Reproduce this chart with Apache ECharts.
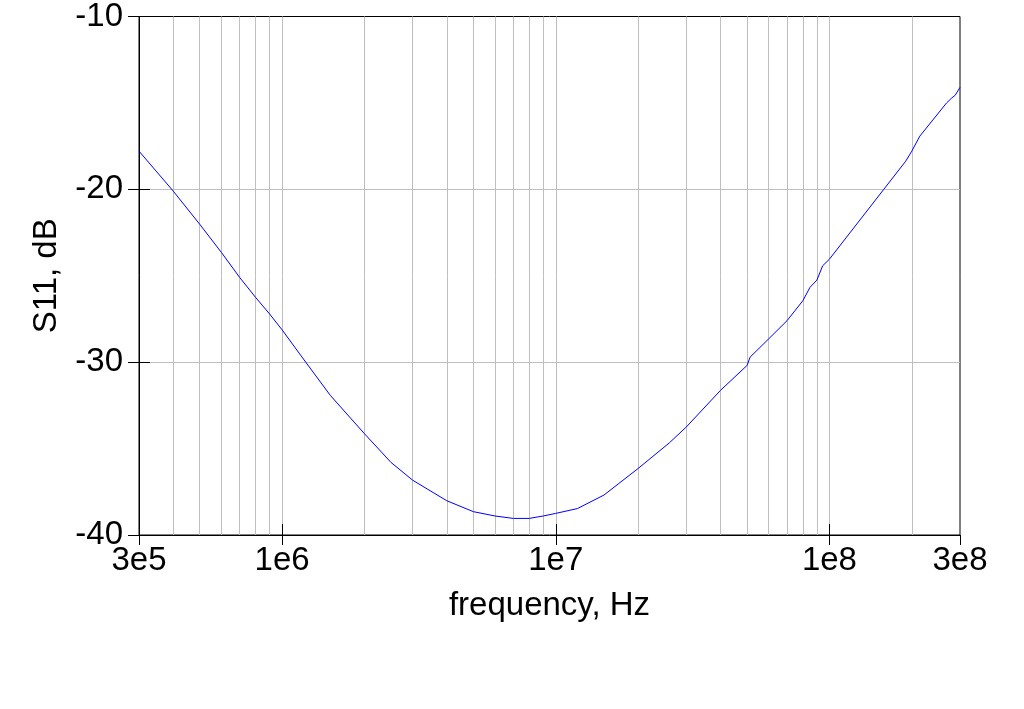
<!DOCTYPE html>
<html>
<head>
<meta charset="utf-8">
<script src="https://cdn.jsdelivr.net/npm/echarts@6/dist/echarts.min.js"></script>
<style>
  html, body { margin: 0; padding: 0; background: #fff; }
  #chart { width: 1024px; height: 709px; }
</style>
</head>
<body>
<div id="chart"></div>
<script>
// frequency (Hz) and S11 (dB)
const freq = [3e5, 4e5, 5e5, 6e5, 7e5, 8e5, 9e5, 1e6, 1.22e6, 1.5e6, 2e6, 2.5e6, 3e6, 4e6, 5e6,
  6e6, 7e6, 8e6, 9e6, 1e7, 1.2e7, 1.5e7, 1.7e7, 2e7, 2.6e7, 3e7, 4e7, 5e7, 5.13e7, 6e7, 7e7, 8e7, 8.49e7,
  9e7, 9.45e7, 1e8, 1.58e8, 1.9e8, 2e8, 2.14e8, 2.68e8, 2.8e8, 2.88e8, 3e8]
const s11 = [-17.79, -20.10, -22.02, -23.65, -25.10, -26.25, -27.21, -28.13, -30.0, -31.92, -34.14, -35.8, -36.83, -38.02, -38.65,
  -38.90, -39.04, -39.04, -38.90, -38.75, -38.47, -37.69, -37.02, -36.15, -34.67, -33.75, -31.63, -30.19, -29.71, -28.65, -27.6, -26.44, -25.67,
  -25.25, -24.42, -24.04, -20.0, -18.37, -17.79, -16.92, -15.0, -14.71, -14.56, -14.10]

const fMin = 3e5
const fMax = 3e8
const majorFreq = [1e6, 1e7, 1e8]
const gridFreq = [4e5, 5e5, 6e5, 7e5, 8e5, 9e5, 1e6, 2e6, 3e6, 4e6, 5e6, 6e6, 7e6, 8e6, 9e6,
  1e7, 2e7, 3e7, 4e7, 5e7, 6e7, 7e7, 8e7, 9e7, 1e8, 2e8]

const lg = Math.log10
const lo = lg(fMin)
const hi = lg(fMax)
const labelVals = [lo].concat(majorFreq.map(lg), [hi])

function fmtFreq(v) {
  const e = Math.floor(v + 1e-9)
  const m = Math.round(Math.pow(10, v - e))
  return m + 'e' + e
}

const font = 'Liberation Sans'
const fs = 33

const chart = echarts.init(document.getElementById('chart'))
chart.setOption({
  animation: false,
  backgroundColor: '#fff',
  grid: {
    left: 139, right: 64, top: 15, bottom: 174,
    show: true, borderColor: '#000', borderWidth: 1, backgroundColor: 'transparent'
  },
  xAxis: [
    {
      type: 'value', min: lo, max: hi, position: 'bottom',
      name: 'frequency, Hz', nameLocation: 'middle', nameGap: 54,
      nameTextStyle: { fontFamily: font, fontSize: fs, color: '#000' },
      axisLine: { show: true, lineStyle: { color: '#000', width: 1 } },
      axisTick: { show: true, inside: false, length: 10, customValues: labelVals, lineStyle: { color: '#000' } },
      axisLabel: {
        customValues: labelVals, formatter: fmtFreq, margin: 9,
        fontFamily: font, fontSize: fs, color: '#000'
      },
      splitLine: { show: false }
    },
    {
      type: 'value', min: lo, max: hi, position: 'bottom',
      axisLine: { show: false },
      axisTick: { show: true, inside: true, length: 11, customValues: majorFreq.map(lg), lineStyle: { color: '#000' } },
      axisLabel: { show: false },
      splitLine: { show: false }
    },
    {
      // vertical grid lines at every 1..9 step of each decade
      type: 'value', min: lo, max: hi, position: 'bottom',
      axisLine: { show: false },
      axisTick: { show: false, customValues: gridFreq.map(lg) },
      axisLabel: { show: false },
      splitLine: { show: true, lineStyle: { color: '#bebebe', width: 1 } }
    }
  ],
  yAxis: [
    {
      type: 'value', min: -40, max: -10, interval: 10,
      name: 'S11, dB', nameLocation: 'middle', nameGap: 76,
      nameTextStyle: { fontFamily: font, fontSize: fs, color: '#000' },
      axisLine: { show: true, lineStyle: { color: '#000', width: 1 } },
      axisTick: { show: true, inside: false, length: 11, lineStyle: { color: '#000' } },
      axisLabel: { margin: 16, fontFamily: font, fontSize: fs, color: '#000' },
      splitLine: { show: true, showMinLine: false, showMaxLine: false, lineStyle: { color: '#bebebe', width: 1 } }
    },
    {
      type: 'value', min: -40, max: -10, interval: 10, position: 'left',
      axisLine: { show: false },
      axisTick: { show: true, inside: true, length: 11, customValues: [-30, -20], lineStyle: { color: '#000' } },
      axisLabel: { show: false },
      splitLine: { show: false }
    }
  ],
  series: [
    {
      type: 'line',
      xAxisIndex: 0, yAxisIndex: 0,
      data: freq.map((f, i) => [lg(f), s11[i]]),
      showSymbol: false,
      lineStyle: { color: '#0000ff', width: 1 },
      z: 5
    }
  ]
})
</script>
</body>
</html>
